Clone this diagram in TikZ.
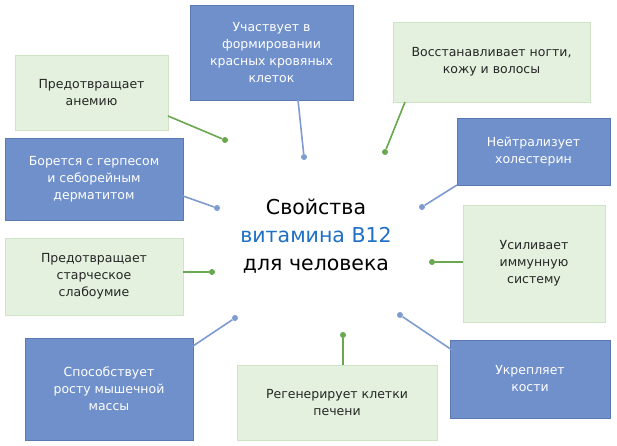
\documentclass[tikz,border=0pt]{standalone}
\usepackage{fontspec}
\setmainfont{DejaVu Sans}
\begin{document}
\begin{tikzpicture}[x=1pt,y=-1pt,
  bbox/.style={fill=bfill,draw=bline,line width=0.8pt,text=white,align=center,font=\fontsize{12.5}{17}\selectfont},
  gbox/.style={fill=gfill,draw=gline,line width=0.8pt,text=black!85,align=center,font=\fontsize{12.5}{17}\selectfont},
  gl/.style={draw=gdot,line width=1.6pt},
  bl/.style={draw=bdot,line width=1.6pt},
  gd/.style={circle,fill=gdot,inner sep=0pt,minimum size=6pt},
  bd/.style={circle,fill=bdot,inner sep=0pt,minimum size=6pt}]
\definecolor{bfill}{HTML}{7090CB}
\definecolor{bline}{HTML}{5A78B2}
\definecolor{gfill}{HTML}{E3F1DE}
\definecolor{gline}{HTML}{CFE3C6}
\definecolor{gdot}{HTML}{6AA84F}
\definecolor{bdot}{HTML}{7F9BD0}
\definecolor{ctext}{HTML}{1F6FC4}
\useasboundingbox[fill=white] (0,0) rectangle (617,446);
% boxes
\node[bbox,minimum width=163pt,minimum height=95pt] (b1) at (271.5,52.5) {Участвует в\\формировании\\красных кровяных\\клеток};
\node[gbox,minimum width=197pt,minimum height=80pt] (b2) at (491.5,62) {Восстанавливает ногти,\\кожу и волосы};
\node[gbox,minimum width=153pt,minimum height=75pt] (b3) at (91.5,92.5) {Предотвращает\\анемию};
\node[bbox,minimum width=153pt,minimum height=67pt] (b4) at (533.5,151.5) {Нейтрализует\\холестерин};
\node[bbox,minimum width=178pt,minimum height=82pt] (b5) at (94,179) {Борется с герпесом\\и себорейным\\дерматитом};
\node[gbox,minimum width=178pt,minimum height=77pt] (b6) at (94,276.5) {Предотвращает\\старческое\\слабоумие};
\node[gbox,minimum width=142pt,minimum height=117pt] (b7) at (534,263.5) {Усиливает\\иммунную\\систему};
\node[bbox,minimum width=168pt,minimum height=102pt] (b8) at (109,389) {Способствует\\росту мышечной\\массы};
\node[gbox,minimum width=200pt,minimum height=75pt] (b9) at (337,402.5) {Регенерирует клетки\\печени};
\node[bbox,minimum width=160pt,minimum height=78pt] (b10) at (530,379) {Укрепляет\\кости};
% center
\node[align=center,font=\fontsize{20.5}{28}\selectfont] (c) at (316,236) {Свойства\\\textcolor{ctext}{витамина B12}\\для человека};
% dots
\node[bd] (d1) at (304,157) {};
\node[gd] (d2) at (385,152) {};
\node[gd] (d3) at (225,140) {};
\node[bd] (d4) at (422,207) {};
\node[bd] (d5) at (217,208) {};
\node[gd] (d6) at (212,272) {};
\node[gd] (d7) at (432,262) {};
\node[bd] (d8) at (235,318) {};
\node[gd] (d9) at (343,335) {};
\node[bd] (d10) at (400,315) {};
\coordinate (e1) at (298,100); \coordinate (e2) at (405,102);
\coordinate (e3) at (168,116); \coordinate (e4) at (457,185);
\coordinate (e5) at (183,196); \coordinate (e6) at (183,272);
\coordinate (e7) at (463,262); \coordinate (e8) at (193,346);
\coordinate (e9) at (343,365); \coordinate (e10) at (452,350);
\draw[bl] (e1) -- (d1); \draw[gl] (e2) -- (d2); \draw[gl] (e3) -- (d3);
\draw[bl] (e4) -- (d4); \draw[bl] (e5) -- (d5); \draw[gl] (e6) -- (d6);
\draw[gl] (e7) -- (d7); \draw[bl] (e8) -- (d8); \draw[gl] (e9) -- (d9);
\draw[bl] (e10) -- (d10);
\end{tikzpicture}
\end{document}
